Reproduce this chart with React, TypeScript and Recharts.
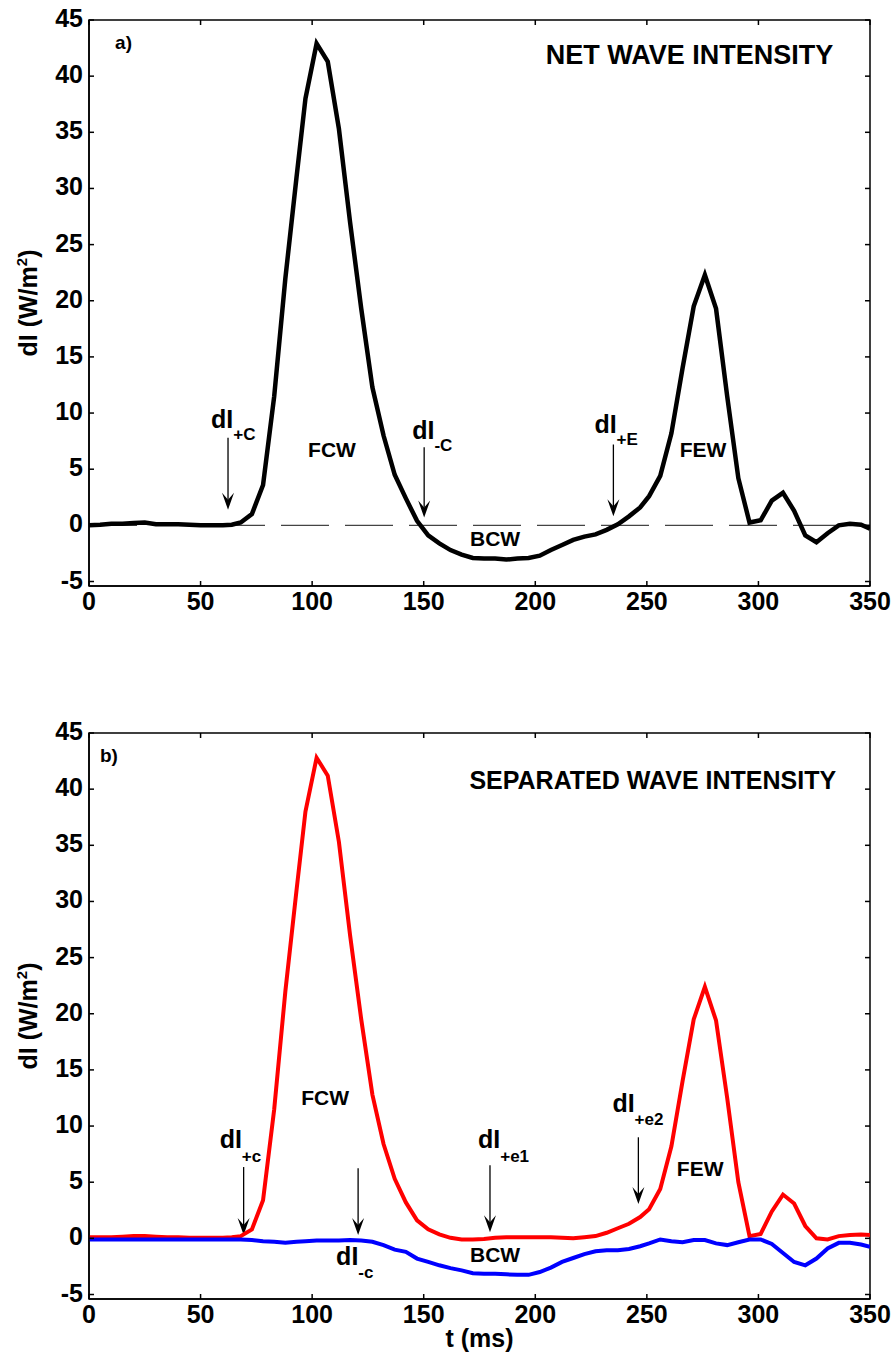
import React from "react";
import {
  LineChart,
  Line,
  XAxis,
  YAxis,
  ReferenceLine,
  ReferenceArea,
  ReferenceDot,
  Label,
} from "recharts";

const FONT = "'Liberation Sans', Arial, Helvetica, sans-serif";

// sample times (ms)
const timeMs = [
  0, 5, 10, 15, 20, 25, 30, 35, 40, 45, 50, 55, 60, 64, 68, 73, 78, 83, 88, 93,
  97, 102, 107, 112, 117, 122, 127, 132, 137, 142, 147, 152, 157, 162, 167, 172,
  177, 182, 187, 192, 197, 202, 207, 212, 217, 222, 227, 232, 237, 242, 247, 251,
  256, 261, 266, 271, 276, 281, 286, 291, 296, 301, 306, 311, 316, 321, 326, 331,
  336, 341, 346, 350,
];

// a) net wave intensity
const netIntensity = [
  0.0, 0.05, 0.15, 0.15, 0.2, 0.25, 0.1, 0.1, 0.1, 0.05, 0.0, 0.0, 0.0,
  0.05, 0.25, 1.0, 3.6, 11.5, 22.0, 31.0, 38.0,
  42.9, 41.3, 35.3, 27.0, 19.3, 12.3, 8.0, 4.5, 2.4, 0.4,
  -0.9, -1.6, -2.2, -2.6, -2.9, -2.95, -2.95, -3.05, -2.95, -2.9, -2.7, -2.2,
  -1.75, -1.3, -1.0, -0.8, -0.4, 0.1, 0.8, 1.6,
  2.6, 4.4, 8.2, 14.0, 19.5, 22.3, 19.3, 11.5, 4.2, 0.25, 0.45, 2.2, 2.9, 1.3,
  -0.9, -1.5, -0.7, 0.0, 0.15, 0.05, -0.3,
];

// b) separated wave intensity
const forwardIntensity = [
  0.1, 0.1, 0.1, 0.15, 0.2, 0.2, 0.15, 0.1, 0.1, 0.05, 0.05, 0.05, 0.05,
  0.1, 0.2, 0.8, 3.4, 11.5, 22.0, 31.0, 38.0,
  42.8, 41.2, 35.3, 27.0, 19.5, 12.8, 8.4, 5.3, 3.2, 1.6,
  0.8, 0.35, 0.05, -0.1, -0.1, -0.05, 0.05, 0.1, 0.1, 0.1, 0.1, 0.1, 0.05, 0.0,
  0.1, 0.2, 0.5, 0.9, 1.3, 1.9,
  2.6, 4.4, 8.2, 14.0, 19.5, 22.4, 19.4, 12.5, 5.0, 0.2, 0.4, 2.4, 3.9, 3.1,
  1.1, 0.0, -0.1, 0.2, 0.3, 0.35, 0.3,
];

const backwardIntensity = [
  -0.1, -0.1, -0.1, -0.1, -0.1, -0.1, -0.1, -0.1, -0.1, -0.1, -0.1, -0.1, -0.1,
  -0.1, -0.1, -0.15, -0.25, -0.3, -0.4, -0.3, -0.25,
  -0.2, -0.2, -0.2, -0.15, -0.2, -0.3, -0.6, -1.0, -1.2, -1.8,
  -2.1, -2.4, -2.65, -2.85, -3.1, -3.15, -3.15, -3.2, -3.25, -3.25, -3.0, -2.6,
  -2.1, -1.75, -1.4, -1.15, -1.05, -1.05, -0.95, -0.7,
  -0.45, -0.1, -0.25, -0.35, -0.15, -0.15, -0.45, -0.6, -0.35, -0.1, -0.1,
  -0.5, -1.3, -2.1, -2.4, -1.8, -0.9, -0.4, -0.4, -0.55, -0.75,
];

const xTicks = [0, 50, 100, 150, 200, 250, 300, 350];
const yTicks = [-5, 0, 5, 10, 15, 20, 25, 30, 35, 40, 45];
const yDomain = [-5.4, 45];

// arrows: t, arrow start and tip in data units, label offsets in px
const netArrows = [
  { t: 62.3, from: 7.8, to: 1.4, sub: "+C", dx: -17, dy: -10, subDy: 12, below: false },
  { t: 150.2, from: 6.95, to: 0.7, sub: "-C", dx: -12, dy: -8, subDy: 12, below: false },
  { t: 235, from: 7.2, to: 0.8, sub: "+E", dx: -19, dy: -12, subDy: 12, below: false },
];
const sepArrows = [
  { t: 69.3, from: 6.35, to: 0.3, sub: "+c", dx: -24, dy: -19, subDy: 14, below: false },
  { t: 120.6, from: 6.25, to: 0.3, sub: "-c", dx: -22, dy: 30, subDy: 13, below: true },
  { t: 179.7, from: 6.5, to: 0.55, sub: "+e1", dx: -12, dy: -17, subDy: 14, below: false },
  { t: 246.2, from: 9.0, to: 3.05, sub: "+e2", dx: -26, dy: -25, subDy: 13, below: false },
];

const netRegions = [
  { name: "FCW", t: 108.9, v: 6.05 },
  { name: "BCW", t: 182, v: -1.87 },
  { name: "FEW", t: 275.2, v: 6.05 },
];
const sepRegions = [
  { name: "FCW", t: 105.8, v: 11.87 },
  { name: "BCW", t: 182, v: -2.11 },
  { name: "FEW", t: 273.9, v: 5.55 },
];

const netData = timeMs.map((t, i) => ({ t, net: netIntensity[i] }));
const sepData = timeMs.map((t, i) => ({
  t,
  fwd: forwardIntensity[i],
  bwd: backwardIntensity[i],
}));

const W = 895;
const H = 640;
const PLOT_TOP = 20;
const PLOT_BOTTOM = 586;
const PLOT_LEFT = 89;
const PLOT_RIGHT = 870;

const XTick = (props: any) => {
  const { x, payload } = props;
  return (
    <g>
      <line x1={x} x2={x} y1={PLOT_BOTTOM} y2={PLOT_BOTTOM - 5} stroke="#000" strokeWidth={1.5} />
      <line x1={x} x2={x} y1={PLOT_TOP} y2={PLOT_TOP + 5} stroke="#000" strokeWidth={1.5} />
      <text x={x} y={PLOT_BOTTOM + 24} textAnchor="middle" fontFamily={FONT} fontWeight="bold" fontSize={25} fill="#000">
        {payload.value}
      </text>
    </g>
  );
};

const YTick = (props: any) => {
  const { y, payload } = props;
  return (
    <g>
      <line x1={PLOT_LEFT} x2={PLOT_LEFT + 5} y1={y} y2={y} stroke="#000" strokeWidth={1.5} />
      <line x1={PLOT_RIGHT} x2={PLOT_RIGHT - 5} y1={y} y2={y} stroke="#000" strokeWidth={1.5} />
      <text x={83} y={y + 7} textAnchor="end" fontFamily={FONT} fontWeight="bold" fontSize={25} fill="#000">
        {payload.value}
      </text>
    </g>
  );
};

const yLabel = () => {
  const cy = (PLOT_TOP + PLOT_BOTTOM) / 2;
  return (
    <text
      x={37}
      y={cy}
      transform={`rotate(-90, 37, ${cy})`}
      textAnchor="middle"
      fontFamily={FONT}
      fontWeight="bold"
      fontSize={25}
      fill="#000"
    >
      dI (W/m<tspan dy={-10} fontSize={15}>2</tspan>
      <tspan dy={10}>)</tspan>
    </text>
  );
};

const arrowShape = (a: any) => (p: any) => {
  const { x1, y1, x2, y2 } = p;
  const tx = x1 + a.dx;
  const ty = (a.below ? y2 : y1) + a.dy;
  return (
    <g>
      <line x1={x1} y1={y1} x2={x2} y2={y2 - 10} stroke="#000" strokeWidth={1.3} />
      <path d={`M${x2},${y2} L${x2 - 6},${y2 - 17} L${x2},${y2 - 10} L${x2 + 6},${y2 - 17} Z`} fill="#000" />
      <text x={tx} y={ty} fontFamily={FONT} fontWeight="bold" fontSize={25} fill="#000">
        dI
        <tspan dy={a.subDy} fontSize={17}>
          {a.sub}
        </tspan>
      </text>
    </g>
  );
};

const textShape = (value: string, size: number, anchor: string) => (p: any) => (
  <text x={p.cx} y={p.cy} textAnchor={anchor} fontFamily={FONT} fontWeight="bold" fontSize={size} fill="#000">
    {value}
  </text>
);

const renderCommon = (
  arrows: any[],
  regions: any[],
  tag: string,
  title: string,
  tagT: number,
  titleT: number,
  titleV: number,
  titleSize: number
) => [
  <ReferenceArea
    key="box"
    x1={0}
    x2={350}
    y1={yDomain[0]}
    y2={yDomain[1]}
    fill="none"
    stroke="#000"
    strokeWidth={1.5}
    ifOverflow="visible"
  />,
  ...arrows.map((a, i) => (
    <ReferenceLine
      key={`arrow-${i}`}
      segment={[
        { x: a.t, y: a.from },
        { x: a.t, y: a.to },
      ]}
      shape={arrowShape(a)}
    />
  )),
  ...regions.map((r) => (
    <ReferenceDot key={`reg-${r.name}`} x={r.t} y={r.v} r={0} shape={textShape(r.name, 21, "middle")} />
  )),
  <ReferenceDot key="tag" x={tagT} y={42.4} r={0} shape={textShape(tag, 19, "start")} />,
  <ReferenceDot key="title" x={titleT} y={titleV} r={0} shape={textShape(title, titleSize, "end")} />,
];

const axes = (withXLabel: boolean) => [
  <XAxis
    key="x"
    type="number"
    dataKey="t"
    domain={[0, 350]}
    ticks={xTicks}
    interval={0}
    allowDataOverflow
    height={40}
    axisLine={{ stroke: "#000", strokeWidth: 1.5 }}
    tickLine={false}
    tick={<XTick />}
  >
    {withXLabel && (
      <Label
        content={() => (
          <text
            x={(PLOT_LEFT + PLOT_RIGHT) / 2}
            y={634}
            textAnchor="middle"
            fontFamily={FONT}
            fontWeight="bold"
            fontSize={25}
            fill="#000"
          >
            t (ms)
          </text>
        )}
      />
    )}
  </XAxis>,
  <YAxis
    key="y"
    type="number"
    domain={yDomain}
    ticks={yTicks}
    interval={0}
    allowDataOverflow
    width={89}
    axisLine={{ stroke: "#000", strokeWidth: 1.5 }}
    tickLine={false}
    tick={<YTick />}
  >
    <Label content={yLabel} />
  </YAxis>,
];

const margin = { top: PLOT_TOP, right: W - PLOT_RIGHT, bottom: 14, left: 0 };

const App = () => {
  return (
    <div
      style={{
        position: "absolute",
        left: 0,
        top: 0,
        width: W,
        height: 1357,
        background: "#fff",
        overflow: "hidden",
      }}
    >
      <div style={{ position: "absolute", left: 0, top: 0 }}>
        <LineChart width={W} height={H} data={netData} margin={margin}>
          {axes(false)}
          <ReferenceLine y={0} stroke="#444" strokeWidth={1.3} strokeDasharray="48 16" />
          {renderCommon(netArrows, netRegions, "a)", "NET WAVE INTENSITY", 11.7, 333.5, 41.05, 27)}
          <Line
            type="linear"
            dataKey="net"
            stroke="#000"
            strokeWidth={4.5}
            dot={false}
            isAnimationActive={false}
          />
        </LineChart>
      </div>
      <div style={{ position: "absolute", left: 0, top: 713 }}>
        <LineChart width={W} height={H} data={sepData} margin={margin}>
          {axes(true)}
          {renderCommon(sepArrows, sepRegions, "b)", "SEPARATED WAVE INTENSITY", 4.9, 334.8, 40, 25)}
          <Line
            type="linear"
            dataKey="fwd"
            stroke="#ff0000"
            strokeWidth={4}
            dot={false}
            isAnimationActive={false}
          />
          <Line
            type="linear"
            dataKey="bwd"
            stroke="#0000ff"
            strokeWidth={4}
            dot={false}
            isAnimationActive={false}
          />
        </LineChart>
      </div>
    </div>
  );
};

export default App;
